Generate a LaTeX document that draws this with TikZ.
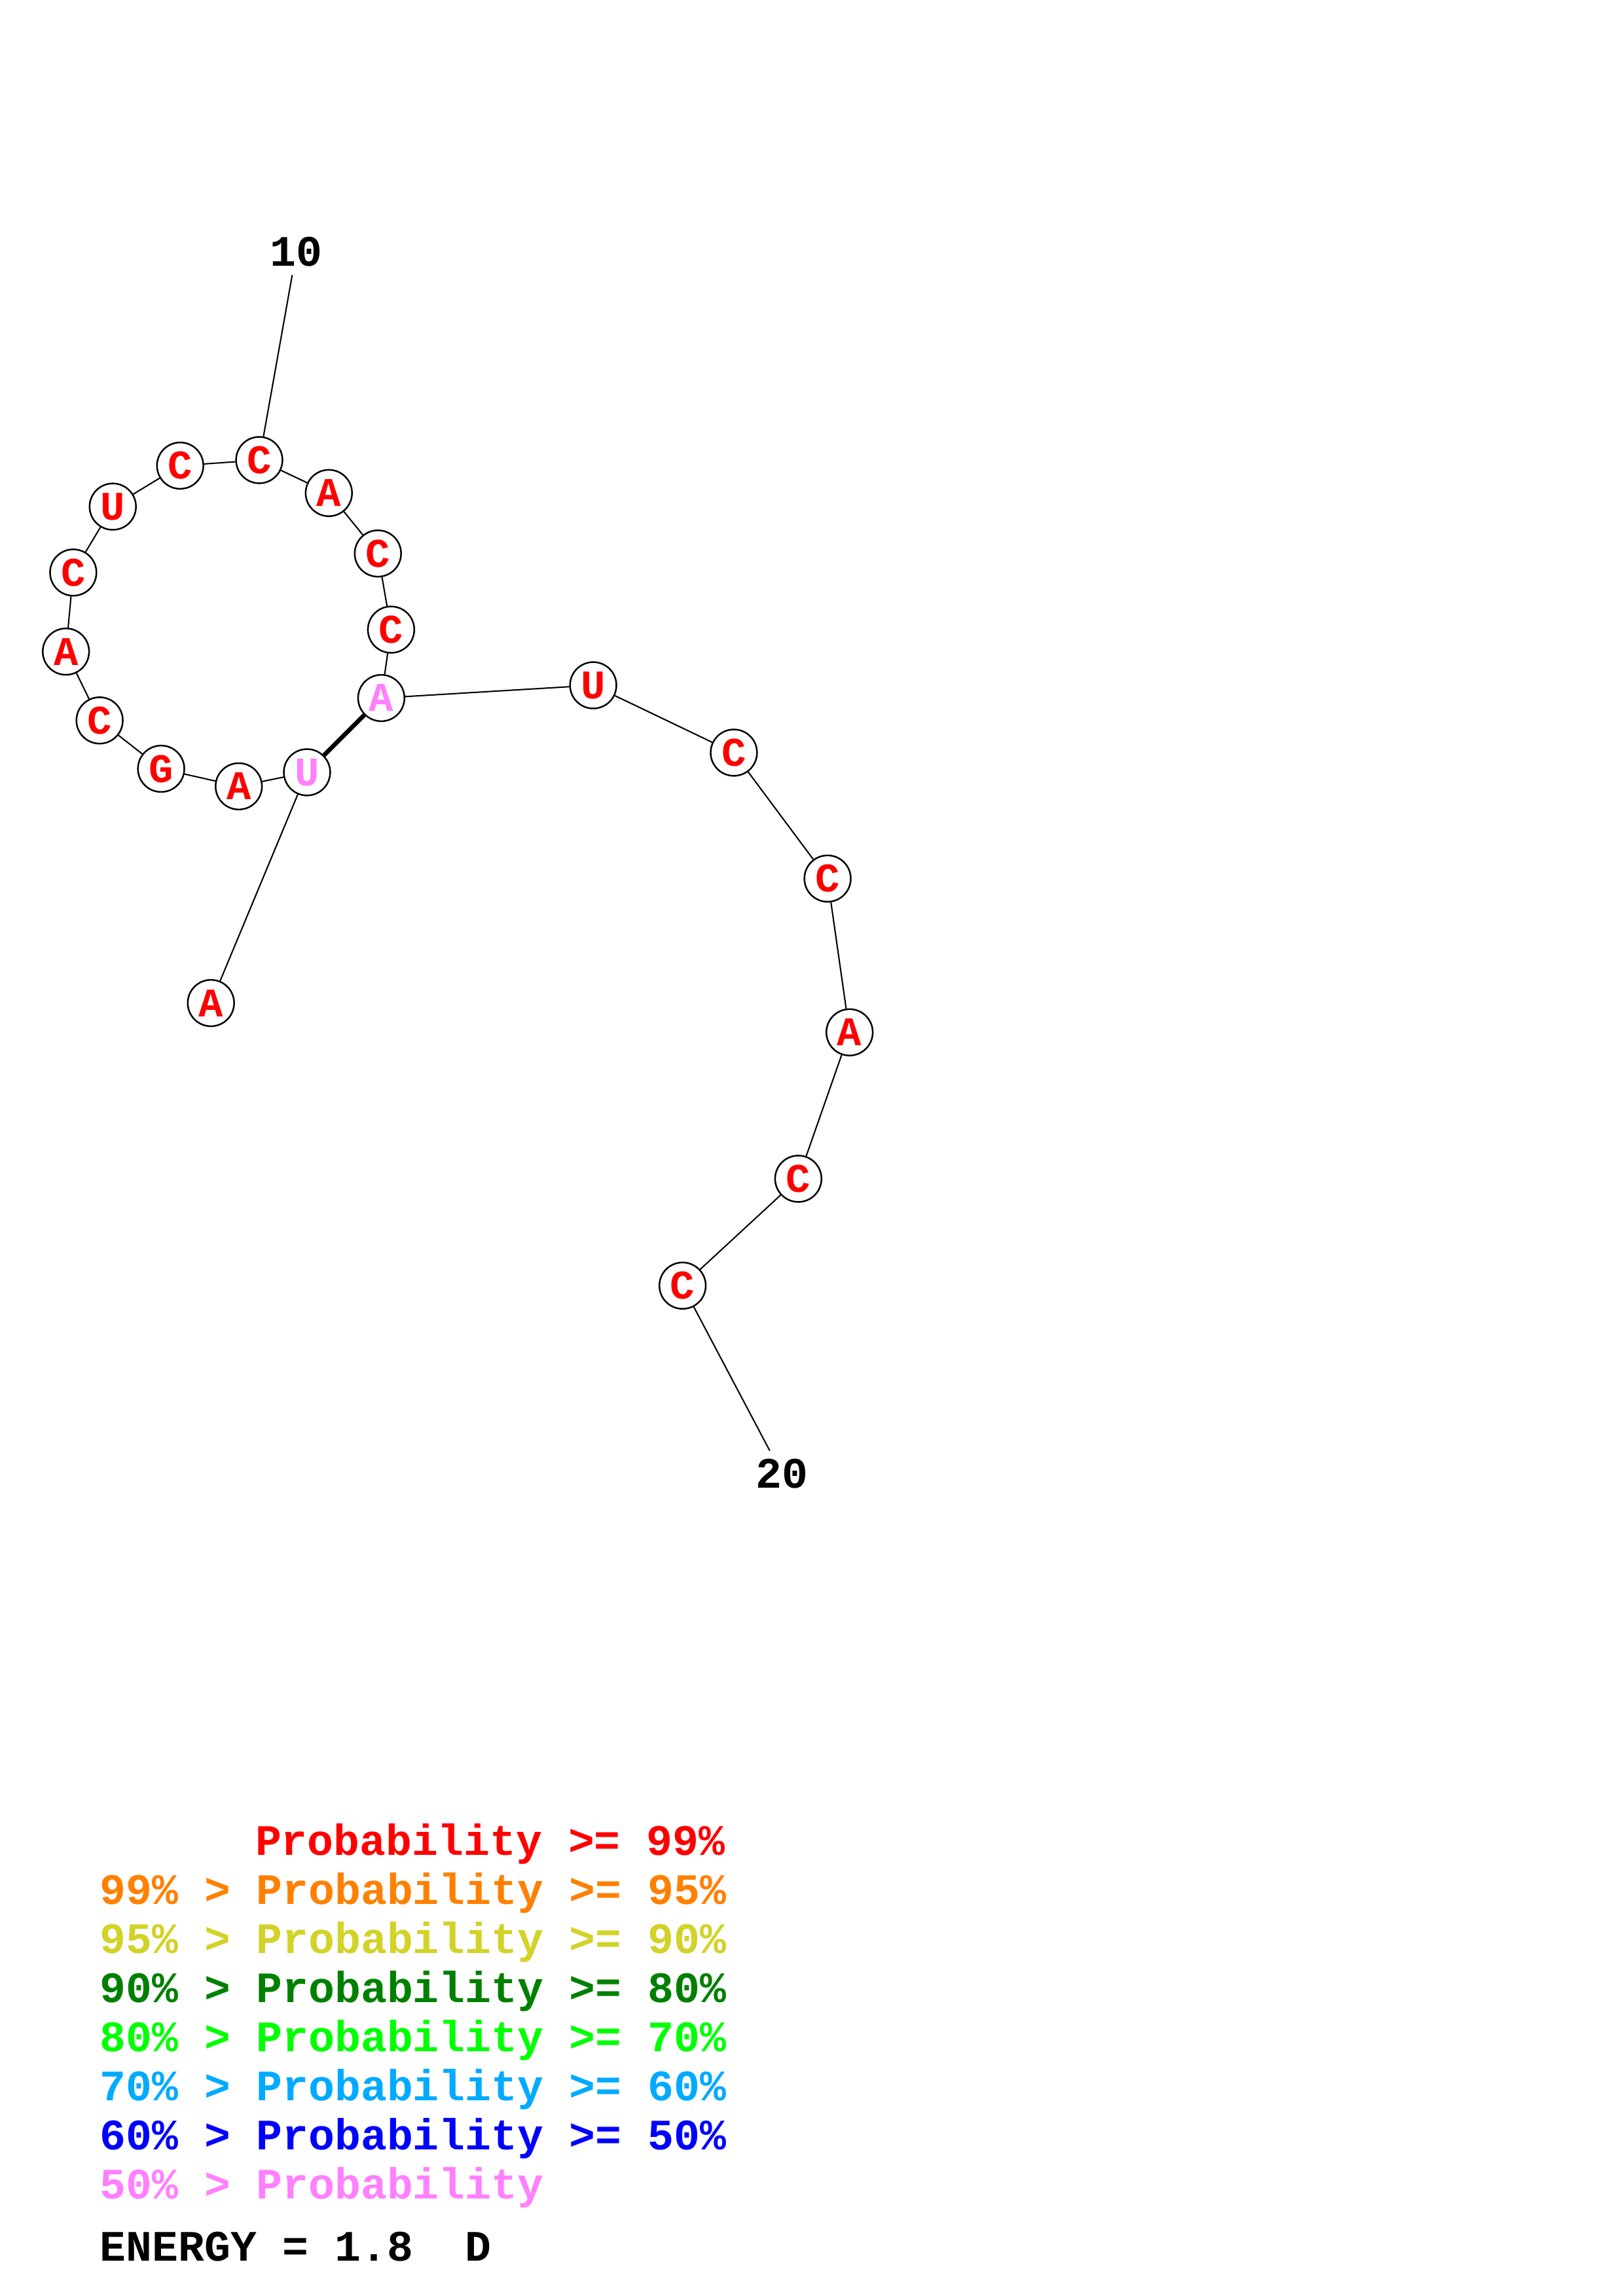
\documentclass[tikz,border=0pt]{standalone}
\usepackage{fontspec}
\newfontfamily\rnafont{Liberation Mono}
\definecolor{pr99}{RGB}{255,0,0}
\definecolor{pr95}{RGB}{255,128,0}
\definecolor{pr90}{RGB}{210,210,40}
\definecolor{pr80}{RGB}{0,128,0}
\definecolor{pr70}{RGB}{0,255,0}
\definecolor{pr60}{RGB}{0,170,255}
\definecolor{pr50}{RGB}{0,0,255}
\definecolor{prlow}{RGB}{255,128,255}
\tikzset{
  nt/.style={draw, circle, line width=0.6pt, minimum size=6mm, inner sep=0pt, fill=white, text=pr99, font=\rnafont\bfseries\fontsize{15}{15}\selectfont},
  ntlow/.style={nt, text=prlow},
  numlbl/.style={inner sep=1mm, font=\rnafont\bfseries\fontsize{16}{16}\selectfont},
  leg/.style={anchor=base west, inner sep=0pt, font=\rnafont\bfseries\fontsize{16}{16}\selectfont},
  bbone/.style={line width=0.5pt},
  bpair/.style={line width=1.6pt},
}
\begin{document}
\begin{tikzpicture}[x=0.18953mm, y=-0.18953mm]
    \useasboundingbox (0,0) rectangle (1108,1568);

    \node [nt] at (144,685) (A1) {A};
    \node [ntlow] at (209.6,527.4) (U2) {U};
    \node [nt] at (163,537) (A3) {A};
    \node [nt] at (110,525) (G4) {G};
    \node [nt] at (68,492) (C5) {C};
    \node [nt] at (45,445) (A6) {A};
    \node [nt] at (50,391) (C7) {C};
    \node [nt] at (77,346) (U8) {U};
    \node [nt] at (123,318) (C9) {C};
    \node [nt] at (177,314.2) (C10) {C};
    \node [nt] at (224.5,336.7) (A11) {A};
    \node [nt] at (258,378) (C12) {C};
    \node [nt] at (267,430) (C13) {C};
    \node [ntlow] at (260.3,476.7) (A14) {A};
    \node [nt] at (405,468) (U15) {U};
    \node [nt] at (501,514) (C16) {C};
    \node [nt] at (565,600) (C17) {C};
    \node [nt] at (580,705) (A18) {A};
    \node [nt] at (545,805) (C19) {C};
    \node [nt] at (466,878) (C20) {C};

    \node [numlbl] at (202.3,172.1) (L10) {10};
    \node [numlbl] at (533.8,1006.4) (L20) {20};

    % backbone
    \path [draw, bbone] (A1) -- (U2) -- (A3) -- (G4) -- (C5) -- (A6) -- (C7) -- (U8) -- (C9) -- (C10);
    \path [draw, bbone] (C10) -- (A11) -- (C12) -- (C13) -- (A14) -- (U15) -- (C16) -- (C17) -- (A18) -- (C19) -- (C20);
    \path [draw, bpair] (U2) -- (A14);

    \path [draw, bbone] (C10) -- (L10);
    \path [draw, bbone] (C20) -- (L20);

    % legend
    \node [leg, text=pr99] at (174,1267) (leg99) {Probability >= 99\%};
    \node [leg, text=pr95] at (68,1300.5) (leg95) {99\% > Probability >= 95\%};
    \node [leg, text=pr90] at (68,1334) (leg90) {95\% > Probability >= 90\%};
    \node [leg, text=pr80] at (68,1367.5) (leg80) {90\% > Probability >= 80\%};
    \node [leg, text=pr70] at (68,1401) (leg70) {80\% > Probability >= 70\%};
    \node [leg, text=pr60] at (68,1434.5) (leg60) {70\% > Probability >= 60\%};
    \node [leg, text=pr50] at (68,1468) (leg50) {60\% > Probability >= 50\%};
    \node [leg, text=prlow] at (68,1501.5) (leglow) {50\% > Probability};
    \node [leg] at (68,1544) (energy) {ENERGY = 1.8\ \ D};

\end{tikzpicture}
\end{document}
